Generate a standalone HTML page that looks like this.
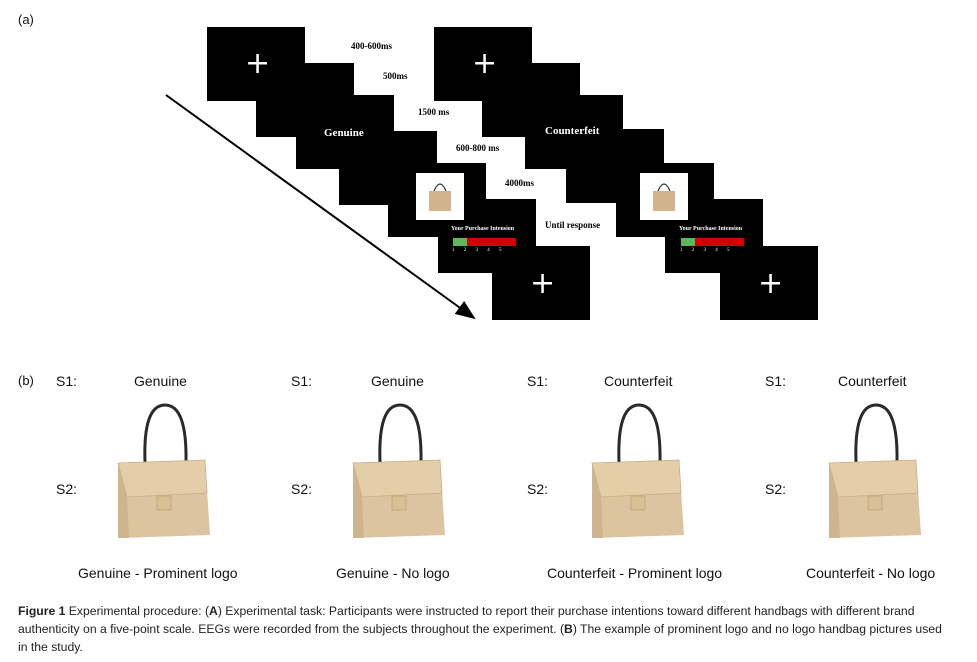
<!DOCTYPE html>
<html><head><meta charset="utf-8"><style>
body{margin:0;background:#fff;width:977px;height:662px;position:relative;overflow:hidden;font-family:"Liberation Sans",sans-serif}
.r{position:absolute;background:#000;width:98px;height:74px}
.t{position:absolute;font-family:"Liberation Serif",serif;font-weight:bold;font-size:9px;color:#000;white-space:nowrap}
.w{position:absolute;color:#fff;font-family:"Liberation Serif",serif;font-weight:bold;white-space:nowrap}
.plus{position:absolute;color:#fff;font-size:30px;line-height:34px;font-family:"DejaVu Sans",sans-serif}
.l{position:absolute;font-size:14px;white-space:nowrap;color:#111}
</style></head><body>
<div class="l" style="left:18px;top:12px;font-size:13px">(a)</div>
<svg style="position:absolute;left:0;top:0" width="977" height="340">
<defs><marker id="a" markerWidth="10" markerHeight="8" refX="9" refY="4" orient="auto"><path d="M0,0 L10,4 L0,8 z"/></marker></defs>
<line x1="166" y1="95" x2="474" y2="318" stroke="#000" stroke-width="2" marker-end="url(#a)"/>
</svg>
<div class="r" style="left:207px;top:27px"></div>
<div class="r" style="left:256px;top:63px"></div>
<div class="r" style="left:296px;top:95px"></div>
<div class="r" style="left:339px;top:131px"></div>
<div class="r" style="left:388px;top:163px"></div>
<div class="r" style="left:438px;top:199px"></div>
<div class="r" style="left:492px;top:246px"></div>
<div class="r" style="left:434px;top:27px"></div>
<div class="r" style="left:482px;top:63px"></div>
<div class="r" style="left:525px;top:95px"></div>
<div class="r" style="left:566px;top:129px"></div>
<div class="r" style="left:616px;top:163px"></div>
<div class="r" style="left:665px;top:199px"></div>
<div class="r" style="left:720px;top:246px"></div>
<div class="plus" style="left:245px;top:47px">+</div>
<div class="plus" style="left:472px;top:47px">+</div>
<div class="plus" style="left:530px;top:267px">+</div>
<div class="plus" style="left:758px;top:267px">+</div>
<div class="w" style="left:324px;top:127px;font-size:11px">Genuine</div>
<div class="w" style="left:545px;top:125px;font-size:11px">Counterfeit</div>
<div class="t" style="left:351px;top:41px">400-600ms</div>
<div class="t" style="left:383px;top:71px">500ms</div>
<div class="t" style="left:418px;top:107px">1500 ms</div>
<div class="t" style="left:456px;top:143px">600-800 ms</div>
<div class="t" style="left:505px;top:178px">4000ms</div>
<div class="t" style="left:545px;top:220px">Until response</div>
<div style="position:absolute;left:416px;top:173px;width:48px;height:47px;background:#fff"></div>
<div style="position:absolute;left:640px;top:173px;width:48px;height:47px;background:#fff"></div>
<svg style="position:absolute;left:416px;top:173px" width="48" height="47"><path d="M18 18 Q24 4 30 18" fill="none" stroke="#333" stroke-width="1.3"/><rect x="13" y="18" width="22" height="20" fill="#d2b48c"/></svg>
<svg style="position:absolute;left:640px;top:173px" width="48" height="47"><path d="M18 18 Q24 4 30 18" fill="none" stroke="#333" stroke-width="1.3"/><rect x="13" y="18" width="22" height="20" fill="#d2b48c"/></svg>
<div class="w" style="left:451px;top:226px;font-size:6px">Your Purchase Intension</div>
<div class="w" style="left:679px;top:226px;font-size:6px">Your Purchase Intension</div>
<div style="position:absolute;left:453px;top:238px;width:14px;height:8px;background:#5cb85c"></div>
<div style="position:absolute;left:467px;top:238px;width:49px;height:8px;background:#d40000"></div>
<div style="position:absolute;left:681px;top:238px;width:14px;height:8px;background:#5cb85c"></div>
<div style="position:absolute;left:695px;top:238px;width:49px;height:8px;background:#d40000"></div>
<div class="w" style="left:452px;top:248px;font-size:5px;font-weight:normal;word-spacing:8px">1 2 3 4 5</div>
<div class="w" style="left:680px;top:248px;font-size:5px;font-weight:normal;word-spacing:8px">1 2 3 4 5</div>

<div class="l" style="left:18px;top:373px;font-size:13px">(b)</div>
<div class="l" style="left:56px;top:373px">S1:</div><div class="l" style="left:134px;top:373px">Genuine</div>
<div class="l" style="left:291px;top:373px">S1:</div><div class="l" style="left:371px;top:373px">Genuine</div>
<div class="l" style="left:527px;top:373px">S1:</div><div class="l" style="left:604px;top:373px">Counterfeit</div>
<div class="l" style="left:765px;top:373px">S1:</div><div class="l" style="left:838px;top:373px">Counterfeit</div>
<div class="l" style="left:56px;top:481px">S2:</div>
<div class="l" style="left:291px;top:481px">S2:</div>
<div class="l" style="left:527px;top:481px">S2:</div>
<div class="l" style="left:765px;top:481px">S2:</div>
<svg style="position:absolute;left:0;top:400px" width="977" height="150">
<g id="bag">
<path d="M145 62 Q143 5 165 5 Q187 5 186 62" fill="none" stroke="#2a2a2a" stroke-width="3"/>
<path d="M118 63 L205 60 L210 135 L118 138 Z" fill="#dcc4a0"/>
<path d="M118 63 L205 60 L207 93 L127 97 Z" fill="#e4ceaa" stroke="#c9ad85" stroke-width="0.8"/>
<rect x="157" y="96" width="14" height="14" fill="#d9bf96" stroke="#b89a70" stroke-width="0.6"/>
<path d="M118 63 L127 97 L129 138 L118 138 Z" fill="#cfb58f"/>
</g>
<use href="#bag" x="235"/><use href="#bag" x="474"/><use href="#bag" x="711"/>
</svg>
<div class="l" style="left:78px;top:565px">Genuine - Prominent logo</div>
<div class="l" style="left:336px;top:565px">Genuine - No logo</div>
<div class="l" style="left:547px;top:565px">Counterfeit - Prominent logo</div>
<div class="l" style="left:806px;top:565px">Counterfeit - No logo</div>
<div style="position:absolute;left:18px;top:602px;font-size:12.2px;line-height:18px;color:#222;white-space:nowrap"><b>Figure 1</b> Experimental procedure: (<b>A</b>) Experimental task: Participants were instructed to report their purchase intentions toward different handbags with different brand<br>authenticity on a five-point scale. EEGs were recorded from the subjects throughout the experiment. (<b>B</b>) The example of prominent logo and no logo handbag pictures used<br>in the study.</div>
</body></html>
